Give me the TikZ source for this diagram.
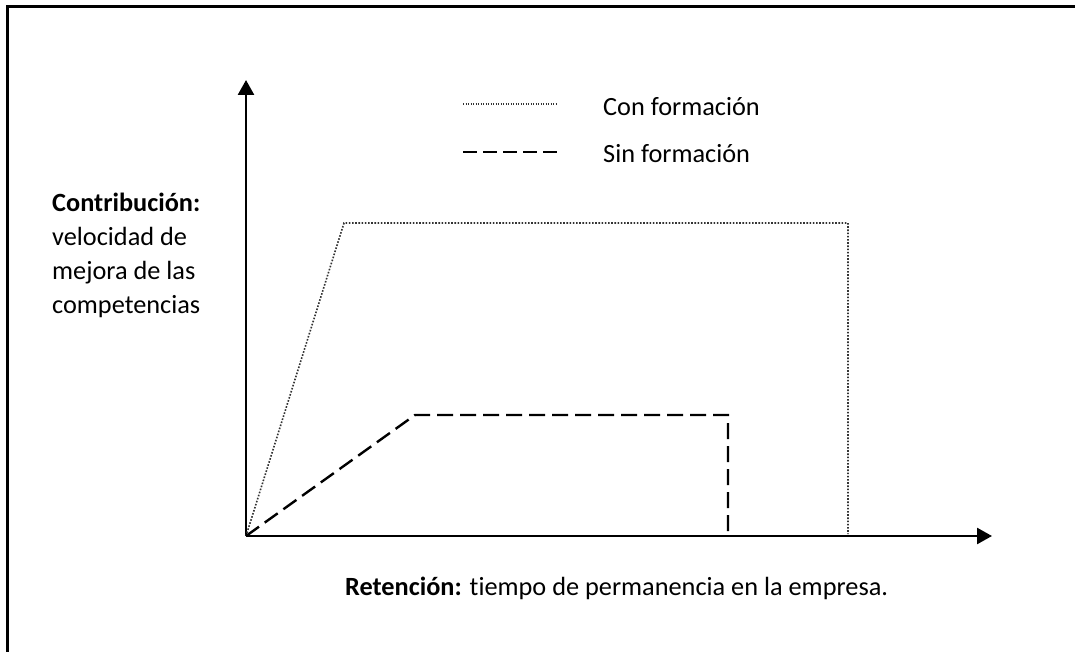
\documentclass[tikz,border=0pt]{standalone}
\usepackage{fontspec}
\setmainfont[Ligatures=NoCommon]{Carlito}
\usetikzlibrary{arrows.meta}
\begin{document}
\begin{tikzpicture}[x=1pt,y=-1pt,
  lbl/.style={anchor=base west,inner sep=0pt,font=\fontsize{26.3}{26.3}\selectfont},
  axis/.style={line width=2.6pt,-{Triangle[length=15pt,width=16pt]}},
  dotline/.style={line width=1.6pt,dash pattern=on 1.6pt off 1.6pt,black!80},
  dashline/.style={line width=2.4pt,dash pattern=on 16pt off 7pt}]
\useasboundingbox (0,0) rectangle (1075,652);
% frame
\draw[line width=3pt] (7,652) -- (7,6.5) -- (1075,6.5);
% axes
\coordinate (O) at (246,536);
\coordinate (ytop) at (246,80);
\coordinate (xend) at (992,536);
\draw[axis] (O) -- (ytop);
\draw[axis] (O) -- (xend);
% curves
\coordinate (d1) at (344,223);
\coordinate (d2) at (848,223);
\coordinate (d3) at (848,534);
\draw[dotline] (O) -- (d1) -- (d2) -- (d3);
\coordinate (s1) at (415,415);
\coordinate (s2) at (728,415);
\coordinate (s3) at (728,536);
\draw[dashline] (O) -- (s1) -- (s2) -- (s3);
% legend
\coordinate (l1a) at (463,104);
\coordinate (l1b) at (556,104);
\coordinate (l2a) at (463,152);
\coordinate (l2b) at (557,152);
\draw[dotline,line width=1.2pt,dash pattern=on 1.2pt off 1.3pt] (l1a) -- (l1b);
\draw[dashline,line width=2.2pt,dash pattern=on 14pt off 6pt] (l2a) -- (l2b);
\node[lbl] (con) at (603,115.5) {Con formación};
\node[lbl] (sin) at (603,163) {Sin formación};
% y label
\node[lbl] (yl1) at (52,212) {\textbf{Contribución:}};
\node[lbl] (yl2) at (52,245.7) {velocidad de};
\node[lbl] (yl3) at (52,279.4) {mejora de las};
\node[lbl] (yl4) at (52,313) {competencias};
% x label
\node[lbl] (xl) at (345,595) {\textbf{Retención:} tiempo de permanencia en la empresa.};
\end{tikzpicture}
\end{document}
